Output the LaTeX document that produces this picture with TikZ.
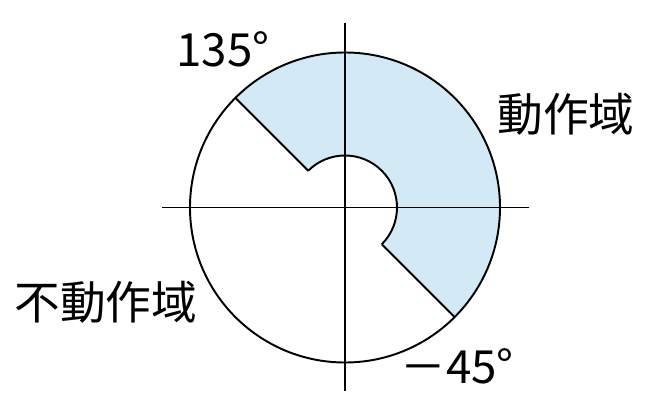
\documentclass[tikz,border=0pt]{standalone}
\usepackage{fontspec}
\setmainfont{Noto Sans CJK JP}
\definecolor{zone}{HTML}{D3E9F6}

\begin{document}
\begin{tikzpicture}[x=0.02cm, y=0.02cm, line width=1.1pt,
	labels/.style={inner sep=0pt, font=\fontsize{26}{30}\selectfont}]
	\useasboundingbox (-345,-204.5) rectangle (310,207.5);
	\coordinate (O) at (0,0);
	\coordinate (left) at (-183,0);
	\coordinate (right) at (184,0);
	\coordinate (top) at (0,184);
	\coordinate (bottom) at (0,-183);
	\fill [zone] (135:52) -- (135:155) arc[start angle=135, end angle=-45, radius=155] -- (-45:52) arc[start angle=-45, end angle=135, radius=52] -- cycle;
\foreach \from/\to in {left/right, top/bottom}
\draw [-] (\from)--(\to);
	\draw (O) circle[radius=155];
	\draw (135:52) -- (135:155);
	\draw (-45:52) -- (-45:155);
	\draw (-45:52) arc[start angle=-45, end angle=135, radius=52];
	\node [labels] (a135) at (-122,158) {135°};
	\node [labels] (act) at (221,93.5) {動作域};
	\node [labels] (inact) at (-239,-94.5) {不動作域};
	\node [labels] (a45) at (112,-159) {－45°};
\end{tikzpicture}
\end{document}
